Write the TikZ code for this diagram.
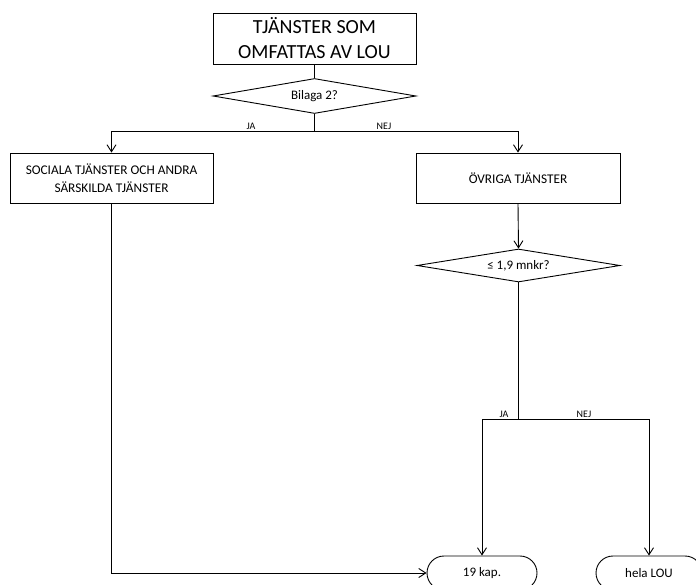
\documentclass[tikz,border=0pt]{standalone}
\usepackage{fontspec}
\setmainfont{Carlito}
\usetikzlibrary{shapes.geometric,shapes.misc,arrows.meta}
\begin{document}
\begin{tikzpicture}[x=1pt,y=1pt,line width=0.9pt,
  >={Straight Barb[length=7pt,width=9pt]},
  box/.style={draw,rectangle,align=center,inner sep=2pt,font=\fontsize{13.3}{17.5}\selectfont},
  bigbox/.style={draw,rectangle,align=center,inner sep=2pt,font=\fontsize{20}{25}\selectfont},
  dec/.style={draw,diamond,aspect=6,inner sep=0pt,font=\fontsize{13}{15}\selectfont},
  term/.style={draw,rounded rectangle,inner sep=0pt,font=\fontsize{13}{15}\selectfont},
  lbl/.style={inner sep=1pt,font=\fontsize{10}{11}\selectfont}]
\clip (0,0) rectangle (696,-585);
\fill[white] (0,0) rectangle (696,-585);
\node[bigbox,minimum width=203pt,minimum height=51pt] (top) at (314.5,-38.5) {TJÄNSTER SOM\\OMFATTAS AV LOU};
\node[dec,minimum width=203pt,minimum height=35pt] (d1) at (314.5,-96) {Bilaga 2?};
\node[box,minimum width=203pt,minimum height=50pt] (left) at (111.5,-178) {SOCIALA TJÄNSTER OCH ANDRA\\SÄRSKILDA TJÄNSTER};
\node[box,minimum width=204pt,minimum height=50pt] (right) at (518,-178) {ÖVRIGA TJÄNSTER};
\node[dec,minimum width=203pt,minimum height=33pt] (d2) at (518.5,-265.5) {≤ 1,9 mnkr?};
\node[term,minimum width=110pt,minimum height=34pt] (t1) at (482,-573) {19 kap.};
\node[term,minimum width=106pt,minimum height=34pt] (t2) at (649,-573) {hela LOU};
\coordinate (b1) at (314.5,-131);
\coordinate (b2) at (518.5,-419);
\draw (top) -- (d1);
\draw (d1.south) -- (b1);
\draw[->] (b1) -| (left.north);
\draw[->] (b1) -| (right.north);
\draw[->] (right.south) -- (d2.north);
\draw (d2.south) -- (b2);
\draw[->] (b2) -| (t1.north);
\draw[->] (b2) -| (t2.north);
\draw[->] (left.south) |- (t1.west);
\node[lbl,anchor=south] (ja1) at (251,-131) {JA};
\node[lbl,anchor=south] (nej1) at (384,-131) {NEJ};
\node[lbl,anchor=south] (ja2) at (504,-419) {JA};
\node[lbl,anchor=south] (nej2) at (584,-419) {NEJ};
\end{tikzpicture}
\end{document}
